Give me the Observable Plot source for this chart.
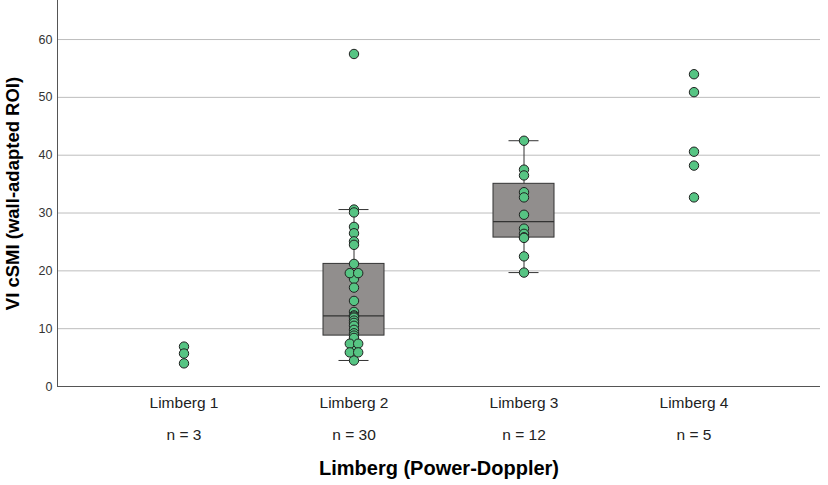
<!DOCTYPE html>
<html>
<head>
<meta charset="utf-8">
<script src="https://cdn.jsdelivr.net/npm/d3@7"></script>
<script src="https://cdn.jsdelivr.net/npm/@observablehq/plot@0.6"></script>
<style>
  html, body { margin: 0; padding: 0; background: #fff; }
  svg { font-family: "Liberation Sans", Arial, sans-serif; }
</style>
</head>
<body>
<div id="chart"></div>
<script>
const categories = ["Limberg 1", "Limberg 2", "Limberg 3", "Limberg 4"];
const limberg1 = [6.9, 5.7, 4.0];
const limberg2 = [57.5, 30.6, 30.1, 27.6, 26.5, 25.1, 24.5, 21.2, 19.6, 19.6, 18.6, 17.1, 14.8, 12.9, 12.3, 12.1, 11.9, 11.4, 11.0, 10.5, 9.8, 9.2, 8.8, 8.4, 7.4, 7.4, 6.4, 5.9, 5.9, 4.5];
const limberg3 = [42.5, 37.5, 36.5, 33.6, 32.7, 29.7, 27.3, 26.4, 25.8, 25.7, 22.5, 19.7];
const limberg4 = [54.0, 50.9, 40.6, 38.2, 32.7];
const boxGroups = ["Limberg 2", "Limberg 3"];
const yTicks = [0, 10, 20, 30, 40, 50, 60];
const yLabel = "VI cSMI (wall-adapted ROI)";
const xLabel = "Limberg (Power-Doppler)";

const groups = [limberg1, limberg2, limberg3, limberg4];

// points with side offsets for tied values
const points = [];
groups.forEach((vals, gi) => {
  const seen = new Map();
  vals.forEach(v => seen.set(v, (seen.get(v) || 0) + 1));
  const used = new Map();
  vals.forEach(v => {
    const c = seen.get(v);
    let side = 0;
    if (c > 1) { const k = used.get(v) || 0; used.set(v, k + 1); side = k === 0 ? -1 : 1; }
    points.push({cat: categories[gi], value: v, side});
  });
});

// Tukey hinges (SPSS boxplot)
function median(a) { const n = a.length; return n % 2 ? a[(n - 1) / 2] : (a[n / 2 - 1] + a[n / 2]) / 2; }
const boxes = boxGroups.map(cat => {
  const vals = groups[categories.indexOf(cat)].slice().sort((a, b) => a - b);
  const n = vals.length;
  const half = Math.ceil(n / 2);
  const q1 = median(vals.slice(0, half));
  const q3 = median(vals.slice(n - half));
  const med = median(vals);
  const iqr = q3 - q1;
  const lo = d3.min(vals.filter(v => v >= q1 - 1.5 * iqr));
  const hi = d3.max(vals.filter(v => v <= q3 + 1.5 * iqr));
  return {cat, q1, q3, med, lo, hi};
});

const counts = categories.map((c, i) => ({cat: c, label: `n = ${groups[i].length}`}));

const dotStyle = {x: "cat", y: "value", r: 4.7, fill: "#56c483", stroke: "#222", strokeWidth: 1};

const chart = Plot.plot({
  width: 828,
  height: 485,
  marginLeft: 57,
  marginRight: 8,
  marginTop: 0,
  marginBottom: 99,
  style: {fontFamily: "'Liberation Sans', Arial, sans-serif", background: "#fff"},
  x: {type: "band", domain: categories, paddingInner: 0.642, paddingOuter: 0.554},
  y: {domain: [0, 66.75]},
  marks: [
    Plot.gridY(yTicks.slice(1), {stroke: "#bdbdbd", strokeOpacity: 1}),
    Plot.axisY(yTicks, {tickSize: 0, tickPadding: 5, fontSize: 12.5, fill: "#333", label: null}),
    Plot.axisX({tickSize: 0, tickPadding: 10, fontSize: 15.5, fill: "#222", label: null}),
    Plot.text(counts, {x: "cat", text: "label", frameAnchor: "bottom", lineAnchor: "middle", dy: 49, fontSize: 15.5, fill: "#222"}),
    Plot.text([xLabel], {frameAnchor: "bottom", lineAnchor: "middle", textAnchor: "middle", dy: 82, fontSize: 20, fontWeight: "bold", fill: "#000"}),
    Plot.text([yLabel], {frameAnchor: "left", textAnchor: "middle", lineAnchor: "middle", rotate: -90, dx: -44, fontSize: 18.5, fontWeight: "bold", fill: "#000"}),
    Plot.ruleY([0], {stroke: "#555"}),
    Plot.frame({anchor: "left", stroke: "#555"}),
    Plot.ruleX(boxes, {x: "cat", y1: "lo", y2: "hi", stroke: "#333", strokeWidth: 1}),
    Plot.tickY(boxes, {x: "cat", y: "lo", stroke: "#333", insetLeft: 15.5, insetRight: 15.5}),
    Plot.tickY(boxes, {x: "cat", y: "hi", stroke: "#333", insetLeft: 15.5, insetRight: 15.5}),
    Plot.barY(boxes, {x: "cat", y1: "q1", y2: "q3", fill: "#918e8d", stroke: "#333", strokeWidth: 1}),
    Plot.tickY(boxes, {x: "cat", y: "med", stroke: "#333", strokeWidth: 1.3}),
    Plot.dot(points.filter(p => p.side === 0), {...dotStyle}),
    Plot.dot(points.filter(p => p.side === -1), {...dotStyle, dx: -4.2}),
    Plot.dot(points.filter(p => p.side === 1), {...dotStyle, dx: 4.2})
  ]
});
document.getElementById("chart").appendChild(chart);
</script>
</body>
</html>
